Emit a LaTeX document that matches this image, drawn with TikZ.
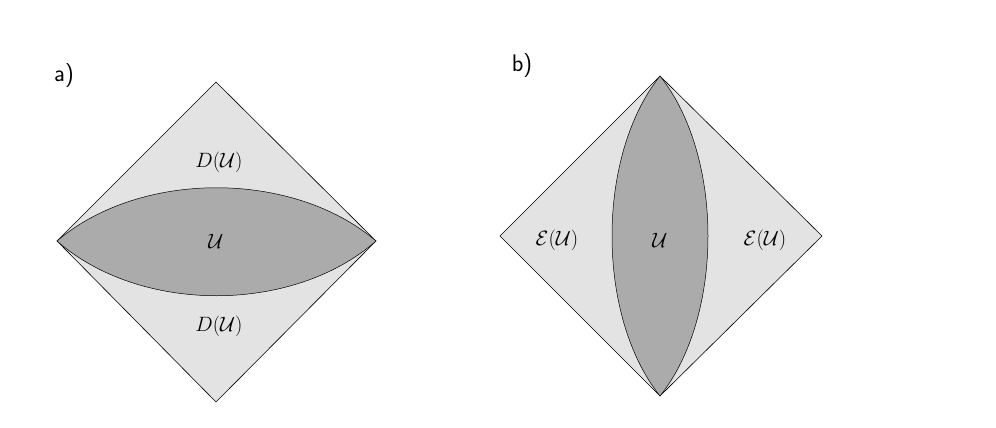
\documentclass[tikz,border=0pt]{standalone}
\usetikzlibrary{positioning}
\tikzset{
  region/.style = {fill=black!11, draw=black, line width=0.6pt},
  lens/.style   = {fill=black!33, draw=black, line width=0.5pt},
  lbl/.style    = {font=\fontsize{22}{26}\selectfont},
  tag/.style    = {font=\sffamily\fontsize{24}{28}\selectfont}
}
\begin{document}
\begin{tikzpicture}[x=1pt, y=-1pt]
  \useasboundingbox (0,0) rectangle (996,428);
  % a)
  \coordinate (aL) at (57,241);
  \coordinate (aR) at (376,241);
  \coordinate (aT) at (216,82);
  \coordinate (aB) at (216,402);
  \draw[region] (aL) -- (aT) -- (aR) -- (aB) -- cycle;
  \draw[lens] (aL) .. controls (140,170) and (293,170) .. (aR)
              .. controls (293,314) and (140,314) .. (aL) -- cycle;
  \node[tag] (atag) at (64,76) {a)};
  \node[lbl] (aDtop) at (219,162) {$D(\mathcal{U})$};
  \node[lbl] (aU) at (216,241) {$\mathcal{U}$};
  \node[lbl] (aDbot) at (219,326) {$D(\mathcal{U})$};
  % b)
  \coordinate (bL) at (500,236);
  \coordinate (bR) at (822,236);
  \coordinate (bT) at (660,76);
  \coordinate (bB) at (660,396);
  \draw[region] (bL) -- (bT) -- (bR) -- (bB) -- cycle;
  \draw[lens] (bT) .. controls (596,156) and (596,316) .. (bB)
              .. controls (724,316) and (724,156) .. (bT) -- cycle;
  \node[tag] (btag) at (522,66) {b)};
  \node[lbl] (bEl) at (557,240) {$\mathcal{E}(\mathcal{U})$};
  \node[lbl] (bU) at (660,240) {$\mathcal{U}$};
  \node[lbl] (bEr) at (765,240) {$\mathcal{E}(\mathcal{U})$};
\end{tikzpicture}
\end{document}
